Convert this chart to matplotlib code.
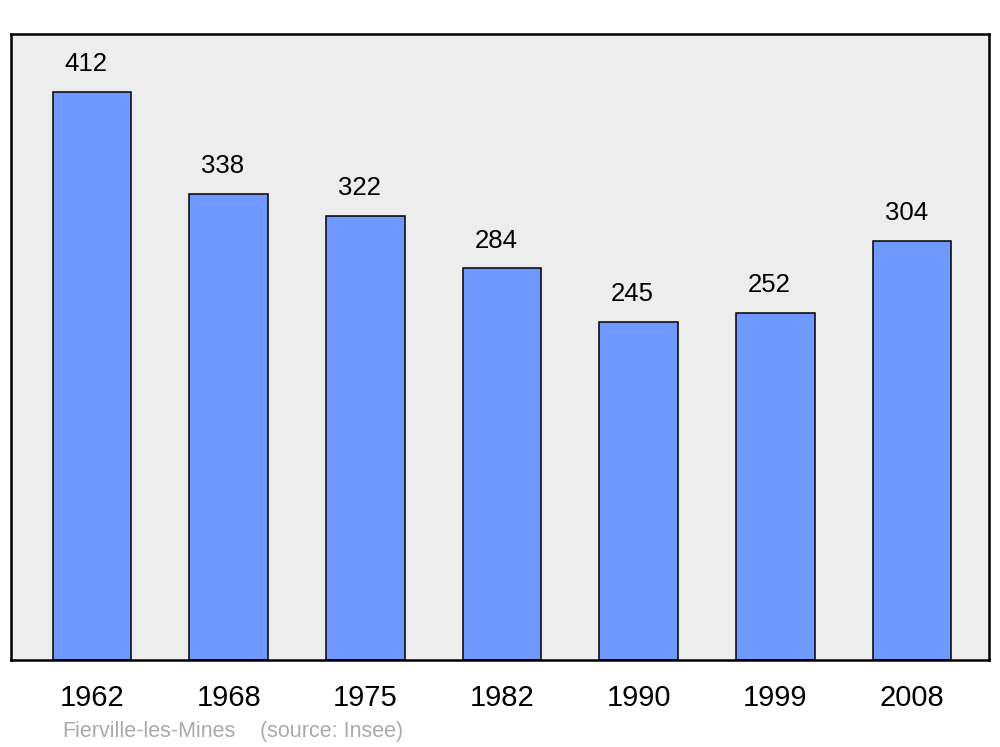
import matplotlib.pyplot as plt
import numpy as np

plt.rcParams['font.family'] = ['Liberation Sans', 'DejaVu Sans']

years = ['1962', '1968', '1975', '1982', '1990', '1999', '2008']
population = [412, 338, 322, 284, 245, 252, 304]

fig = plt.figure(figsize=(10, 7.47), dpi=100)
ax = fig.add_axes([0.011, 0.1165, 0.978, 0.838])
ax.set_facecolor('#ededed')

x = np.arange(len(years))
bars = ax.bar(x, population, width=0.575, color='#7099ff', edgecolor='black',
              linewidth=1.1, zorder=2)

# value labels sit a bit left of the bar centre, like the original
for xi, v in zip(x, population):
    ax.annotate(str(v), (xi, v), xytext=(-4.3, 20), textcoords='offset points',
                ha='center', va='center', fontsize=18.5)

ax.set_xlim(-0.593, 6.563)
ax.set_ylim(0, 454)
ax.set_yticks([])
ax.set_xticks(x)
ax.set_xticklabels(years, fontsize=21)
ax.tick_params(axis='x', length=0, pad=17)
for s in ax.spines.values():
    s.set_linewidth(1.8)

fig.text(0.062, 0.021, 'Fierville-les-Mines', color='#aaaaaa', fontsize=15.5, va='center')
fig.text(0.26, 0.021, '(source: Insee)', color='#aaaaaa', fontsize=15.5, va='center')

fig.savefig('out.png', dpi=100)
